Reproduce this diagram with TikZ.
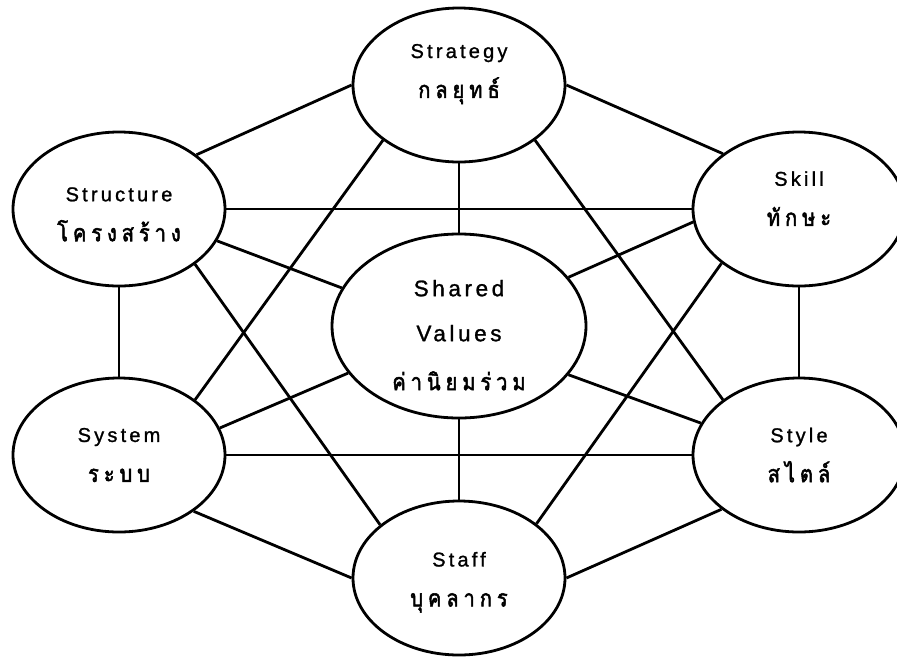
\documentclass[tikz,border=0pt]{standalone}
\usepackage{fontspec}
\setmainfont{Liberation Sans}
\newfontfamily\latinfont{Liberation Sans}[LetterSpace=16,FakeBold=1.2]
\newfontfamily\thaifont[Script=Thai,FakeStretch=0.85,FakeBold=2.2]{Loma}
\usetikzlibrary{shapes.geometric}
\newcommand\thsp{\hspace{5pt}}
\newcommand\latsz{\latinfont\fontsize{20pt}{40pt}\selectfont}
\newcommand\latbig{\latinfont\fontsize{22.5pt}{45pt}\selectfont}
\newcommand\thsz{\thaifont\fontsize{23.5pt}{40pt}\selectfont}
\begin{document}
\begin{tikzpicture}[x=1pt,y=-1pt,
  ell/.style={ellipse, draw, line width=2.8pt, minimum width=212pt, minimum height=154pt, inner sep=0pt, align=center, fill=white, font=\fontsize{20pt}{40pt}\selectfont},
  bigell/.style={ell, minimum width=254pt, minimum height=184pt, font=\fontsize{22.5pt}{45pt}\selectfont},
  link/.style={line width=2.8pt}]
\useasboundingbox (0,0) rectangle (897,657);
\node[ell] (strategy) at (459,85) {\latsz Strategy\\\thsz ก\thsp ล\thsp ยุ\thsp ท\thsp ธ์\rule[-28pt]{0pt}{0pt}};
\node[ell] (structure) at (119,209) {\latsz Structure\rule{0pt}{24.6pt}\\\thsz โ\thsp ค\thsp ร\thsp ง\thsp ส\thsp ร้\thsp า\thsp ง};
\node[ell] (skill) at (799,209) {\latsz Skill\\\thsz ทั\thsp ก\thsp ษ\thsp ะ\rule[-21pt]{0pt}{0pt}};
\node[bigell] (shared) at (459,326) {\latbig Shared\rule{0pt}{34.5pt}\\\latbig Values\\[4pt]\thsz ค่\thsp า\thsp นิ\thsp ย\thsp ม\thsp ร่\thsp ว\thsp ม};
\node[ell] (system) at (119,455) {\latsz System\\\thsz ร\thsp ะ\thsp บ\thsp บ};
\node[ell] (style) at (799,455) {\latsz Style\\\thsz ส\thsp ไ\thsp ต\thsp ล์};
\node[ell] (staff) at (459,578) {\latsz Staff\rule{0pt}{23pt}\\\thsz บุ\thsp ค\thsp ล\thsp า\thsp ก\thsp ร};
\draw[link] (strategy.west) -- (structure.35);
\draw[link] (strategy.east) -- (skill.144);
\draw[link] (strategy.south) -- (shared.north);
\draw[link] (strategy.216) -- (system.36);
\draw[link] (strategy.324) -- (style.144);
\draw[link] (structure.east) -- (skill.west);
\draw[link] (structure.-18) -- (shared.162);
\draw[link] (structure.-36) -- (staff.146);
\draw[link] (structure.south) -- (system.north);
\draw[link] (skill.187) -- (shared.24);
\draw[link] (skill.215) -- (staff.35);
\draw[link] (skill.south) -- (style.north);
\draw[link] (system.15) -- (shared.203);
\draw[link] (system.east) -- (style.west);
\draw[link] (system.-37) -- (staff.west);
\draw[link] (style.162) -- (shared.-24);
\draw[link] (style.215) -- (staff.east);
\draw[link] (shared.south) -- (staff.north);
\end{tikzpicture}
\end{document}
